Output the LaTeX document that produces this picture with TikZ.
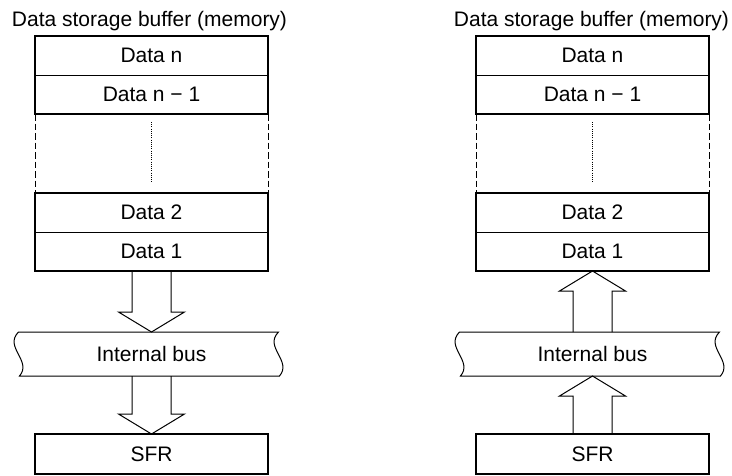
\documentclass[tikz,border=0pt]{standalone}
\usepackage{fontspec}
\setmainfont{Liberation Sans}
\usetikzlibrary{positioning, calc}

% hollow block arrow from #1 (tail) to #2 (tip)
\newcommand{\blkarrow}[2]{%
  \draw[blk] let \p1=($(#2)!20pt!(#1)$) in
    ([xshift=-19.5pt]#1) -- (\x1-19.5pt,\y1) -- (\x1-33pt,\y1) -- (#2)
    -- (\x1+33pt,\y1) -- (\x1+19.5pt,\y1) -- ([xshift=19.5pt]#1);}

% bus outline with wavy ends
\newcommand{\busedge}[1]{%
  \draw[blk] ([xshift=-3pt]#1.north west) -- ([xshift=-3pt]#1.north east)
    .. controls ([shift={(-18,15)}]#1.north east) and ([shift={(11,-15)}]#1.south east) .. ([xshift=-2pt]#1.south east)
    -- ([xshift=-2pt]#1.south west)
    .. controls ([shift={(11,-15)}]#1.south west) and ([shift={(-18,15)}]#1.north west) .. cycle;}

\begin{document}
\begin{tikzpicture}[x=1pt, y=-1pt,
        font=\fontsize{21}{25}\selectfont,
        % styles for the buffer diagram
        cell/.style={draw, line width=1pt, minimum width=233pt, minimum height=39pt, inner sep=0pt, outer sep=0pt},
        reg/.style={cell, line width=2.2pt, minimum height=40pt},
        bus/.style={minimum width=260pt, minimum height=44pt, inner sep=0pt, outer sep=0pt},
        frame/.style={line width=2.2pt},
        blk/.style={line width=1pt},
        gap/.style={line width=1pt, dash pattern=on 6.5pt off 3pt},
        dots/.style={line width=0.8pt, dash pattern=on 1pt off 1.2pt}
    ]
    \useasboundingbox (0,0) rectangle (732,475);

    % --- LEFT: write from buffer to SFR ---
    \node[cell] at (151.5,55.5) (datan) {Data n};
    \node[above=9.5pt of datan, anchor=base, xshift=-2pt] (title) {Data storage buffer (memory)};
    \node[cell, below=0pt of datan] (datan1) {Data n − 1};
    \node[cell, below=79pt of datan1] (data2) {Data 2};
    \node[cell, below=0pt of data2] (data1) {Data 1};
    \node[bus, below=61pt of data1] (bus) {Internal bus};
    \node[reg, below=58pt of bus] (sfr) {SFR};

    \draw[frame] (datan.north west) rectangle (datan1.south east);
    \draw[frame] (data2.north west) rectangle (data1.south east);
    \draw[gap] (datan1.south west) -- (data2.north west);
    \draw[gap] (datan1.south east) -- (data2.north east);
    \draw[dots] ([yshift=-8pt]datan1.south) -- ([yshift=10pt]data2.north);

    \busedge{bus}
    \blkarrow{data1.south}{bus.north}
    \blkarrow{bus.south}{sfr.north}

    % --- RIGHT: read from SFR into buffer ---
    \node[cell] at (592.5,55.5) (datanR) {Data n};
    \node[above=9.5pt of datanR, anchor=base, xshift=-1pt] (titleR) {Data storage buffer (memory)};
    \node[cell, below=0pt of datanR] (datan1R) {Data n − 1};
    \node[cell, below=79pt of datan1R] (data2R) {Data 2};
    \node[cell, below=0pt of data2R] (data1R) {Data 1};
    \node[bus, below=61pt of data1R] (busR) {Internal bus};
    \node[reg, below=58pt of busR] (sfrR) {SFR};

    \draw[frame] (datanR.north west) rectangle (datan1R.south east);
    \draw[frame] (data2R.north west) rectangle (data1R.south east);
    \draw[gap] (datan1R.south west) -- (data2R.north west);
    \draw[gap] (datan1R.south east) -- (data2R.north east);
    \draw[dots] ([yshift=-8pt]datan1R.south) -- ([yshift=10pt]data2R.north);

    \busedge{busR}
    \blkarrow{busR.north}{data1R.south}
    \blkarrow{sfrR.north}{busR.south}

\end{tikzpicture}
\end{document}
